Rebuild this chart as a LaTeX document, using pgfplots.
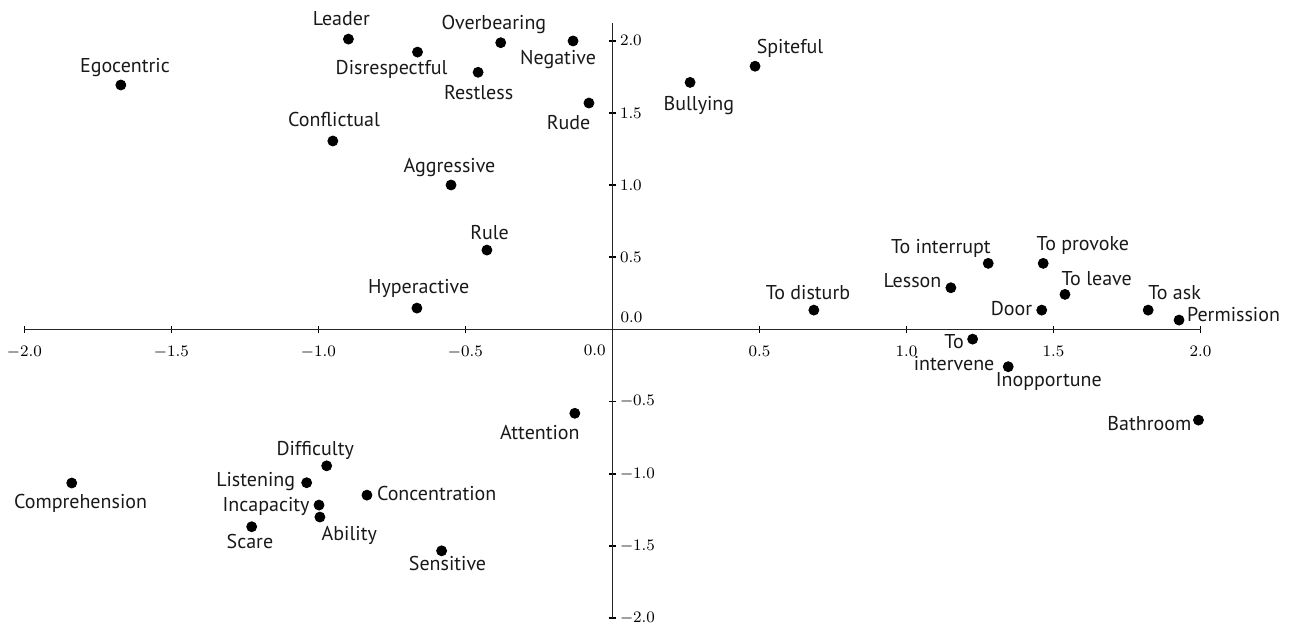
\documentclass[border=0pt]{standalone}
\usepackage{pgfplots}
\pgfplotsset{compat=1.18}
\usepackage{fontspec}
\setmainfont{PT Sans}
\begin{document}
\begin{tikzpicture}[
  lbl/.style={font=\fontsize{10}{12}\selectfont, inner sep=0pt, anchor=mid, text=black!90},
  tlbl/.style={font=\fontsize{8.5}{10}\selectfont, inner sep=0pt, anchor=center}
]
\begin{axis}[
  x=147pt, y=72.15pt,
  xmin=-2, xmax=2, ymin=-2, ymax=2.125,
  axis lines=middle,
  axis line style={-, line width=0.9pt, black!85},
  clip=false,
  xtick={-2,-1.5,-1,-0.5,0.5,1,1.5,2},
  ytick={-2,-1.5,-1,-0.5,0.5,1,1.5,2},
  tick align=center,
  major tick length=3.5pt,
  tick style={line width=0.8pt, black},
  ticklabel style={font=\fontsize{8.5}{10}\selectfont},
  xticklabel style={anchor=north, yshift=-3pt},
  yticklabel style={anchor=west, xshift=2pt},
  xticklabel={\pgfmathprintnumber[fixed,fixed zerofill,precision=1]{\tick}},
  yticklabel={\pgfmathprintnumber[fixed,fixed zerofill,precision=1]{\tick}},
]
\addplot[only marks, mark=*, mark size=2.5pt, black] table {
x y
-1.672 1.694
-0.898 2.012
-0.663 1.922
-0.380 1.987
-0.134 1.999
-0.457 1.782
-0.080 1.569
-0.951 1.306
-0.549 1.001
-0.427 0.550
-0.665 0.148
0.264 1.712
0.485 1.824
1.278 0.458
1.465 0.458
1.151 0.289
1.539 0.243
0.685 0.134
1.460 0.134
1.822 0.134
1.927 0.065
1.225 -0.067
1.346 -0.258
1.993 -0.628
-0.128 -0.581
-1.839 -1.064
-0.972 -0.945
-1.040 -1.062
-0.835 -1.148
-0.998 -1.217
-0.995 -1.300
-1.227 -1.367
-0.581 -1.534
};
\node[lbl] at (axis cs:-1.658,1.814) {Egocentric};
\node[lbl] at (axis cs:-0.922,2.139) {Leader};
\node[lbl] at (axis cs:-0.751,1.798) {Disrespectful};
\node[lbl] at (axis cs:-0.403,2.116) {Overbearing};
\node[lbl] at (axis cs:-0.185,1.874) {Negative};
\node[lbl] at (axis cs:-0.455,1.629) {Restless};
\node[lbl] at (axis cs:-0.149,1.423) {Rude};
\node[lbl] at (axis cs:-0.947,1.443) {Conflictual};
\node[lbl] at (axis cs:-0.554,1.123) {Aggressive};
\node[lbl] at (axis cs:-0.418,0.659) {Rule};
\node[lbl] at (axis cs:-0.659,0.285) {Hyperactive};
\node[lbl] at (axis cs:0.294,1.555) {Bullying};
\node[lbl] at (axis cs:0.604,1.948) {Spiteful};
\node[lbl] at (axis cs:1.117,0.564) {To interrupt};
\node[lbl] at (axis cs:1.600,0.585) {To provoke};
\node[lbl, anchor=mid east] at (axis cs:1.120,0.328) {Lesson};
\node[lbl] at (axis cs:1.647,0.342) {To leave};
\node[lbl] at (axis cs:0.665,0.245) {To disturb};
\node[lbl, anchor=mid east] at (axis cs:1.429,0.134) {Door};
\node[lbl] at (axis cs:1.912,0.243) {To ask};
\node[lbl, anchor=mid west] at (axis cs:1.953,0.093) {Permission};
\node[lbl] at (axis cs:1.162,-0.096) {To};
\node[lbl] at (axis cs:1.162,-0.247) {intervene};
\node[lbl] at (axis cs:1.484,-0.362) {Inopportune};
\node[lbl, anchor=mid east] at (axis cs:1.970,-0.663) {Bathroom};
\node[lbl] at (axis cs:-0.247,-0.731) {Attention};
\node[lbl] at (axis cs:-1.809,-1.205) {Comprehension};
\node[lbl] at (axis cs:-1.011,-0.836) {Difficulty};
\node[lbl, anchor=mid east] at (axis cs:-1.078,-1.051) {Listening};
\node[lbl, anchor=mid east] at (axis cs:-1.029,-1.224) {Incapacity};
\node[lbl, anchor=mid west] at (axis cs:-0.802,-1.152) {Concentration};
\node[lbl] at (axis cs:-0.895,-1.425) {Ability};
\node[lbl] at (axis cs:-1.233,-1.482) {Scare};
\node[lbl] at (axis cs:-0.561,-1.633) {Sensitive};
\node[tlbl] at (axis cs:0.065,0.081) {$0.0$};
\node[tlbl] at (axis cs:-0.060,-0.148) {$0.0$};
\coordinate (bbsw) at (axis cs:-2.083,-2.069);
\coordinate (bbne) at (axis cs:2.318,2.283);
\end{axis}
\pgfresetboundingbox
\path[use as bounding box] (bbsw) rectangle (bbne);
\end{tikzpicture}
\end{document}
